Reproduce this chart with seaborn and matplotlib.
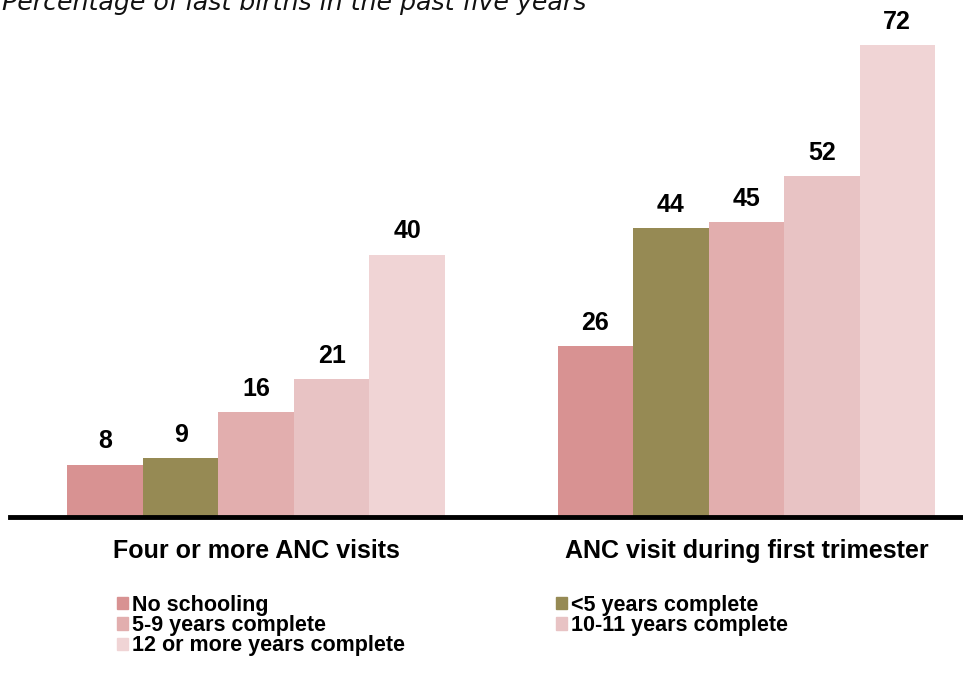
import numpy as np
import pandas as pd
import matplotlib
matplotlib.use("Agg")
import matplotlib.pyplot as plt
import matplotlib.patches as mpatches
import seaborn as sns

# ── data ────────────────────────────────────────────────────
indicators = ["Four or more ANC visits", "ANC visit during first trimester"]
education = ["No schooling", "<5 years complete", "5-9 years complete",
             "10-11 years complete", "12 or more years complete"]
four_plus = [8, 9, 16, 21, 40]
first_tri = [26, 44, 45, 52, 72]

colors = ["#D89292", "#968A54", "#E2AEAE", "#E8C3C4", "#F0D4D5"]
palette = dict(zip(education, colors))

df = pd.DataFrame({
    "indicator": [indicators[0]] * 5 + [indicators[1]] * 5,
    "education": education * 2,
    "pct": four_plus + first_tri,
})

sns.set_theme(style="white")
plt.rcParams["font.family"] = ["Liberation Sans", "DejaVu Sans"]
plt.rcParams["text.color"] = "black"
plt.rcParams["xtick.color"] = "black"

fig = plt.figure(figsize=(9.63, 6.79), dpi=100)
ax = fig.add_axes([10 / 963, 162 / 679, 953 / 963, 517 / 679])

sns.barplot(data=df, x="indicator", y="pct", hue="education",
            hue_order=education, order=indicators, palette=palette,
            width=0.77, linewidth=0, saturation=1, ax=ax, legend=False)

for cont in ax.containers:
    ax.bar_label(cont, fmt="%d", padding=8, fontsize=18, fontweight="bold",
                 color="black")

ax.set_xlim(-0.502, 1.442)
ax.set_ylim(0, 78.8)
ax.set_xlabel("")
ax.set_ylabel("")
ax.set_yticks([])
for s in ["top", "left", "right"]:
    ax.spines[s].set_visible(False)
ax.spines["bottom"].set_linewidth(3.5)
ax.spines["bottom"].set_color("black")
ax.tick_params(axis="x", length=0, pad=16, labelsize=18, labelcolor="black")
for lab in ax.get_xticklabels():
    lab.set_fontweight("bold")

# legend: first column gets 3 entries, second gets 2
order = [0, 2, 4, 1, 3]
handles = [mpatches.Patch(color=colors[i], label=education[i]) for i in order]
fig.legend(handles=handles, loc="upper left", bbox_to_anchor=(117 / 963, 1 - 595 / 679),
           ncol=2, frameon=False, prop={"weight": "bold", "size": 15.5},
           labelcolor="black",
           handlelength=0.5, handleheight=0.5, handletextpad=0.2,
           labelspacing=-0.04, columnspacing=7.0, borderpad=0, borderaxespad=0)

fig.text(0.002, 1 - 10 / 679, "Percentage of last births in the past five years",
         fontsize=18.2, style="italic", family="DejaVu Sans", va="baseline",
         ha="left", color="#111111")

plt.savefig("out.png", dpi=100, facecolor="white")
plt.close()
